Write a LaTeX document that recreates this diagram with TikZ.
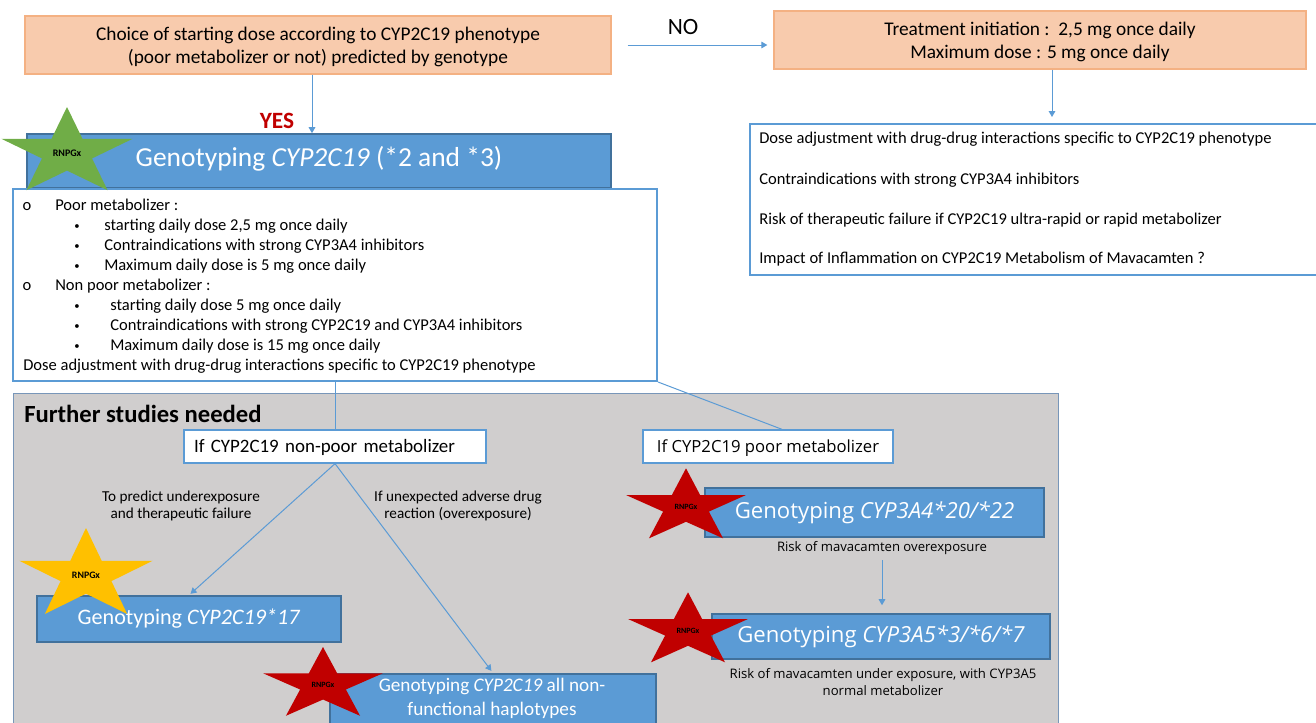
\documentclass[tikz,border=0pt]{standalone}
\usepackage{fontspec}
\setmainfont{Carlito}
\newfontfamily\segoe{Open Sans}
\usepackage{xcolor}
\definecolor{peach}{RGB}{248,203,173}
\definecolor{peachline}{RGB}{244,177,131}
\definecolor{bluebox}{RGB}{91,155,213}
\definecolor{blueline}{RGB}{65,113,156}
\definecolor{greybg}{RGB}{208,206,206}
\definecolor{greyline}{RGB}{120,150,185}
\definecolor{starred}{RGB}{192,0,0}
\definecolor{stargreen}{RGB}{112,173,71}
\definecolor{staryellow}{RGB}{255,192,0}
\usetikzlibrary{arrows.meta}

\tikzset{
  pics/rnpgx/.style 2 args={code={
    \fill[#1] (90:1) \foreach \a/\r in {126/.382,162/1,198/.382,234/1,270/.382,306/1,342/.382,18/1,54/.382} { -- (\a:\r)} -- cycle;
    \node[font=\fontsize{#2}{#2}\selectfont\bfseries,inner sep=0pt] (-lbl) at (0,0) {RNPGx};
  }}
}

\begin{document}
\begin{tikzpicture}[x=0.75pt,y=-0.75pt,
    every node/.style={inner sep=0pt},
    vc/.style={text height=2ex,text depth=.2ex},
    peachbox/.style={fill=peach,draw=peachline,line width=1pt,align=center,font=\fontsize{14.5}{17.25}\selectfont},
    genobox/.style={fill=bluebox,draw=blueline,line width=1.2pt,text=white,align=center},
    whitebox/.style={fill=white,draw=bluebox,line width=1.5pt},
    txt/.style={anchor=west,vc,font=\fontsize{12.4}{15}\selectfont},
    listmark/.style={vc,font=\fontsize{12.4}{15}\selectfont},
    dot/.style={yshift=-1.5pt,font=\fontsize{8}{10}\selectfont},
    small/.style={align=center,font=\fontsize{11.4}{13.3}\selectfont},
    risk/.style={align=center,font=\segoe\fontsize{9.85}{12.75}\selectfont},
    conn/.style={draw=bluebox,line width=0.75pt},
    arr/.style={conn,-{Triangle[width=5pt,length=4.5pt]}}]
    \useasboundingbox (0,0) rectangle (1316,722);

    % top row
    \node[peachbox,minimum width=439.5pt,minimum height=43.5pt] (choice) at (318,45) {\rule{0pt}{13pt}Choice of starting dose according to CYP2C19 phenotype\\(poor metabolizer or not) predicted by genotype};
    \node[peachbox,minimum width=399pt,minimum height=43.5pt] (treat) at (1040,40) {\rule{0pt}{13pt}Treatment initiation :\ \ 2,5 mg once daily\\Maximum dose : 5 mg once daily};
    \node[font=\fontsize{17.5}{20}\selectfont] (no) at (683,27) {NO};
    \node[font=\fontsize{17.5}{20}\selectfont\bfseries,text=starred] (yes) at (277,121) {YES};

    % right box
    \node[whitebox,anchor=north west,minimum width=432pt,minimum height=113.25pt] (ddibox) at (749,123) {};
    \node[txt] (ddi1) at (759,138) {Dose adjustment with drug-drug interactions specific to CYP2C19 phenotype};
    \node[txt] (ddi2) at (759,179) {Contraindications with strong CYP3A4 inhibitors};
    \node[txt] (ddi3) at (759,219) {Risk of therapeutic failure if CYP2C19 ultra-rapid or rapid metabolizer};
    \node[txt] (ddi4) at (759,258) {Impact of Inflammation on CYP2C19 Metabolism of Mavacamten ?};

    % genotyping and list
    \node[genobox,vc,minimum width=438pt,minimum height=40.5pt,font=\fontsize{20.6}{24}\selectfont] (geno1) at (319,161) {Genotyping \textit{CYP2C19} (*2 and *3)};
    \node[whitebox,minimum width=483pt,minimum height=144pt] (listbox) at (335,285) {};
    \node[listmark] (o1) at (27,205) {o};
    \node[txt] (pm) at (55,205) {Poor metabolizer :};
    \node[dot] (b1) at (77,225) {\textbullet};
    \node[txt] (pm1) at (104,225) {starting daily dose 2,5 mg once daily};
    \node[dot] (b2) at (77,245) {\textbullet};
    \node[txt] (pm2) at (104,245) {Contraindications with strong CYP3A4 inhibitors};
    \node[dot] (b3) at (77,265) {\textbullet};
    \node[txt] (pm3) at (104,265) {Maximum daily dose is 5 mg once daily};
    \node[listmark] (o2) at (27,285) {o};
    \node[txt] (npm) at (55,285) {Non poor metabolizer :};
    \node[dot] (b4) at (77,305) {\textbullet};
    \node[txt] (npm1) at (110,305) {starting daily dose 5 mg once daily};
    \node[dot] (b5) at (77,325) {\textbullet};
    \node[txt] (npm2) at (110,325) {Contraindications with strong CYP2C19 and CYP3A4 inhibitors};
    \node[dot] (b6) at (77,345) {\textbullet};
    \node[txt] (npm3) at (110,345) {Maximum daily dose is 15 mg once daily};
    \node[txt] (dda) at (23,365) {Dose adjustment with drug-drug interactions specific to CYP2C19 phenotype};

    % further studies
    \draw[fill=greybg,draw=greyline,line width=0.75pt] (13,393) rectangle (1058,740);
    \node[anchor=west,font=\fontsize{18.5}{20}\selectfont\bfseries] (further) at (24,414) {Further studies needed};
    \node[whitebox,vc,line width=1pt,text width=211.5pt,inner xsep=7.5pt,align=left,minimum height=24.75pt,font=\fontsize{14.2}{17}\selectfont] (nonpoor) at (335,446.5) {If CYP2C19 non-poor metabolizer};
    \node[whitebox,vc,line width=1pt,minimum width=187.5pt,minimum height=24.75pt,font=\segoe\fontsize{12.5}{15}\selectfont] (poor) at (768,446.5) {If CYP2C19 poor metabolizer};
    \node[small] (lblunder) at (181,506) {To predict underexposure\\and therapeutic failure};
    \node[small] (lblover) at (458,506) {If unexpected adverse drug\\reaction (overexposure)};
    \node[genobox,vc,minimum width=228pt,minimum height=34.5pt,font=\fontsize{16.6}{20}\selectfont] (g17) at (189,619) {Genotyping \textit{CYP2C19*17}};
    \node[genobox,anchor=north,minimum width=244.5pt,minimum height=46.5pt] (gnf) at (493,673) {};
    \node[align=center,text=white,font=\fontsize{14.4}{18}\selectfont] (gnftext) at (492,698) {Genotyping \textit{CYP2C19} all non-\\functional haplotypes};
    \node[genobox,vc,minimum width=254.25pt,minimum height=36.75pt,font=\segoe\fontsize{16.6}{20}\selectfont] (g3a4) at (874.5,512.5) {Genotyping \textit{CYP3A4*20/*22}};
    \node[risk] (r3a4) at (882,548) {Risk of mavacamten overexposure};
    \node[genobox,vc,minimum width=253.5pt,minimum height=33.75pt,font=\segoe\fontsize{16.6}{20}\selectfont] (g3a5) at (881,636.5) {Genotyping \textit{CYP3A5*3/*6/*7}};
    \node[risk] (r3a5) at (883,682.5) {Risk of mavacamten under exposure, with CYP3A5\\normal metabolizer};

    % connectors
    \draw[arr] ([xshift=-4.5pt]choice.south) -- ([xshift=-4.5pt]choice.south |- geno1.north);
    \draw[arr,shorten <=12pt,shorten >=4.5pt] (choice.east) -- (choice.east -| treat.west);
    \draw[arr,shorten >=4.5pt] ([xshift=9pt]treat.south) -- ([xshift=9pt]treat.south |- ddibox.north);
    \draw[conn] (listbox.south) -- (nonpoor.north);
    \draw[conn] (listbox.south east) -- ([xshift=10.5pt]poor.north);
    \draw[arr,shorten >=1.5pt] (nonpoor.south) -- (g17.north);
    \draw[arr,shorten >=2pt] (nonpoor.south) -- (gnf.north);
    \draw[arr,shorten <=4pt,shorten >=6pt] (r3a4.south) -- (r3a4.south |- g3a5.north);

    % stars
    \pic[xscale=69,yscale=-46] (sgreen) at (67,153) {rnpgx={stargreen}{7.5}};
    \pic[xscale=70,yscale=-47.5] (syellow) at (86,575.5) {rnpgx={staryellow}{7.4}};
    \pic[xscale=63,yscale=-38] (sred1) at (323,685) {rnpgx={starred}{6}};
    \pic[xscale=63,yscale=-38.7] (sred2) at (686,507) {rnpgx={starred}{6}};
    \pic[xscale=63,yscale=-38.7] (sred3) at (688,631) {rnpgx={starred}{6}};
\end{tikzpicture}
\end{document}
